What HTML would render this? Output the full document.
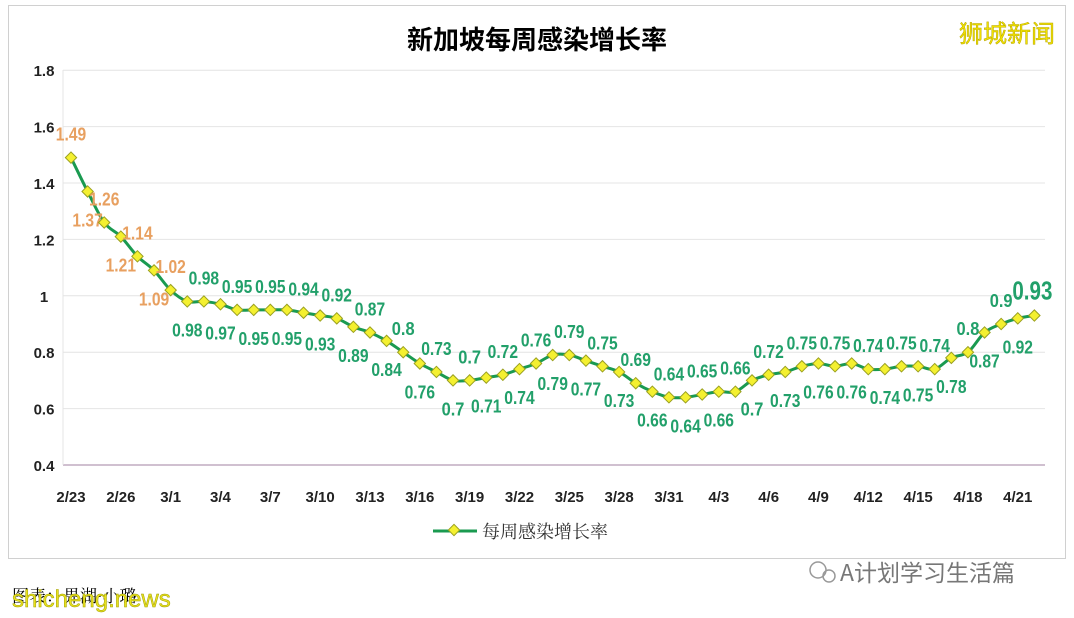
<!DOCTYPE html>
<html><head><meta charset="utf-8"><style>
body{margin:0;background:#fff;width:1074px;height:618px;overflow:hidden;font-family:"Liberation Sans","Noto Sans CJK SC",sans-serif}
</style></head><body>
<svg id="s" width="1074" height="618" xmlns="http://www.w3.org/2000/svg" style="position:absolute;left:0;top:0">
<rect x="8.5" y="5.5" width="1057" height="553" fill="#fff" stroke="#d0d0d0"/>
<text x="537" y="49" text-anchor="middle" font-size="26" font-weight="bold" font-family="Liberation Sans,Noto Sans CJK SC,sans-serif">新加坡每周感染增长率</text>
<text x="1007" y="42" text-anchor="middle" font-size="24" fill="#f2e200" stroke="#b8a800" stroke-width="0.5" font-family="Noto Sans CJK SC,sans-serif">狮城新闻</text>
<g id="g"></g>
<line x1="433" y1="531" x2="477" y2="531" stroke="#1a9a50" stroke-width="3"/>
<rect x="450" y="526" width="8" height="8" transform="rotate(45 454 530)" fill="#f4f030" stroke="#9aa020" stroke-width="1"/>
<text x="482" y="538" font-size="18" font-family="Noto Serif CJK SC,serif" fill="#333">每周感染增长率</text>
<text x="12" y="602" font-size="17" font-family="Noto Serif CJK SC,serif">图表：畀湖·小璐</text>
<text x="12" y="607" font-size="24" fill="#e8e020" stroke="#a0a000" stroke-width="0.5">shicheng.news</text>
<circle cx="818" cy="570" r="8" fill="none" stroke="#999" stroke-width="1.5"/>
<circle cx="829" cy="576" r="6" fill="none" stroke="#999" stroke-width="1.5"/>
<text x="840" y="581" font-size="23" fill="#777" font-family="Noto Sans CJK SC,sans-serif">A计划学习生活篇</text>
</svg>
<script>
var d=[1.49,1.37,1.26,1.21,1.14,1.09,1.02,0.98,0.98,0.97,0.95,0.95,0.95,0.95,0.94,0.93,0.92,0.89,0.87,0.84,0.8,0.76,0.73,0.7,0.7,0.71,0.72,0.74,0.76,0.79,0.79,0.77,0.75,0.73,0.69,0.66,0.64,0.64,0.65,0.66,0.66,0.7,0.72,0.73,0.75,0.76,0.75,0.76,0.74,0.74,0.75,0.75,0.74,0.78,0.8,0.87,0.9,0.92,0.93];
var dates=["2/23","2/26","3/1","3/4","3/7","3/10","3/13","3/16","3/19","3/22","3/25","3/28","3/31","4/3","4/6","4/9","4/12","4/15","4/18","4/21"];
var X=function(i){return 71+i*16.61},Y=function(v){return 465-(v-0.4)*282};
var h='';
for(var k=0;k<8;k++){var v=0.4+k*0.2,y=Y(v);
h+='<line x1="63" x2="1045" y1="'+y+'" y2="'+y+'" stroke="'+(k==0?'#a080a0':'#e4e4e4')+'" stroke-width="1"/>';
h+='<text x="44" y="'+(y+6)+'" text-anchor="middle" font-size="15" font-weight="bold" fill="#222">'+(Math.round(v*10)/10)+'</text>';}
h+='<line x1="63" x2="63" y1="70" y2="465" stroke="#e4e4e4"/>';
dates.forEach(function(t,j){h+='<text x="'+X(j*3)+'" y="502" text-anchor="middle" font-size="15" font-weight="bold" fill="#222">'+t+'</text>';});
var P=d.map(function(v,i){return [X(i),Y(v)]});
var path='M'+P[0][0]+','+P[0][1];
for(var i=0;i<P.length-1;i++){var p0=P[Math.max(i-1,0)],p1=P[i],p2=P[i+1],p3=P[Math.min(i+2,P.length-1)];
var c1x=p1[0]+(p2[0]-p0[0])/6,c1y=p1[1]+(p2[1]-p0[1])/6,c2x=p2[0]-(p3[0]-p1[0])/6,c2y=p2[1]-(p3[1]-p1[1])/6;
path+=' C'+c1x+','+c1y+' '+c2x+','+c2y+' '+p2[0]+','+p2[1];}
h+='<path d="'+path+'" fill="none" stroke="#1a9a50" stroke-width="3" stroke-linejoin="round"/>';
d.forEach(function(v,i){var x=X(i),y=Y(v);
h+='<rect x="'+(x-4)+'" y="'+(y-4)+'" width="8" height="8" transform="rotate(45 '+x+' '+y+')" fill="#f4f030" stroke="#9aa020" stroke-width="1"/>';
var last=i==d.length-1;var ly=(i%2==0)?y-17:y+35;if(last)ly=y-16;
h+='<text x="'+(x+(last?-2:0))+'" y="'+ly+'" text-anchor="middle" font-size="'+(last?26:18)+'" font-weight="bold" fill="'+(i<=6?'#e8a060':'#22a06a')+'" textLength="'+(last?40:(String(v).length*7.6))+'" lengthAdjust="spacingAndGlyphs">'+v+'</text>';});
document.getElementById('g').innerHTML=h;
</script>
</body></html>
